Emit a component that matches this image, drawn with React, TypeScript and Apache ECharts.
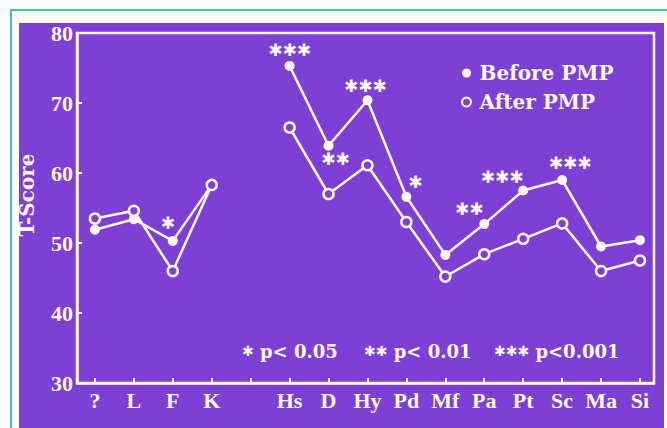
import React, { useEffect, useRef } from 'react';
import * as echarts from 'echarts';

const categories = ['?', 'L', 'F', 'K', '', 'Hs', 'D', 'Hy', 'Pd', 'Mf', 'Pa', 'Pt', 'Sc', 'Ma', 'Si'];
const before: (number | null)[] = [51.9, 53.4, 50.3, 58.3, null, 75.3, 63.9, 70.4, 56.6, 48.3, 52.7, 57.5, 59.0, 49.5, 50.4];
const after: (number | null)[] = [53.5, 54.6, 46.0, 58.3, null, 66.5, 57.0, 61.1, 53.0, 45.2, 48.4, 50.6, 52.8, 46.0, 47.5];
const significance = ['', '', '*', '', '', '***', '**', '***', '*', '', '**', '***', '***', '', ''];
const seriesNames = ['Before PMP', 'After PMP'];
const notes = [
  { stars: '*', text: ' p< 0.05' },
  { stars: '**', text: ' p< 0.01' },
  { stars: '***', text: ' p<0.001' },
];

const PURPLE = '#7d3fd4';
const WHITE = '#fbf7ff';
const TEAL = '#3fc9b3';

export default function App() {
  const ref = useRef<HTMLDivElement>(null);
  useEffect(() => {
    const chart = echarts.init(ref.current!, null, { renderer: 'svg' });
    const starOffsets: Record<number, [number, number]> = {
      2: [-5, -18], 5: [0, -16], 6: [7, 13], 7: [-2, -14], 8: [9, -15],
      10: [-15, -15], 11: [-21, -14], 12: [8, -17],
    };
    const toStars = (s: string, sep: string) => s.split('').map(() => '✱').join(sep);
    const beforeData = before.map((v, i) => ({
      value: [i, v == null ? '-' : v],
      label: significance[i]
        ? {
            show: true,
            position: 'inside',
            offset: starOffsets[i],
            formatter: toStars(significance[i], ''),
            color: WHITE,
            fontFamily: 'DejaVu Sans',
            fontWeight: 'bold',
            fontSize: 17,
            align: 'center',
            verticalAlign: 'middle',
          }
        : { show: false },
    }));
    const afterData = after.map((v, i) => [i, v == null ? '-' : v]);
    const noteX = [242, 364, 494];
    chart.setOption({
      animation: false,
      backgroundColor: 'transparent',
      grid: { left: 77, right: 13, top: 33, bottom: 45, show: true, borderColor: WHITE, borderWidth: 2.5 },
      xAxis: {
        type: 'value',
        min: -0.46,
        max: 14.36,
        axisLine: { onZero: false, lineStyle: { color: WHITE, width: 2.5 } },
        axisTick: { inside: true, length: 5, lineStyle: { color: WHITE, width: 2 }, customValues: categories.map((_, i) => i) },
        axisLabel: {
          customValues: categories.map((c, i) => (c ? i : -1)).filter((i) => i >= 0),
          formatter: (v: number) => categories[Math.round(v)],
          color: WHITE,
          fontFamily: 'Liberation Serif',
          fontWeight: 'bold',
          fontSize: 22,
          margin: 6,
        },
        splitLine: { show: false },
      },
      yAxis: {
        type: 'value',
        min: 30,
        max: 80,
        interval: 10,
        axisLine: { show: true, onZero: false, lineStyle: { color: WHITE, width: 2.5 } },
        axisTick: { show: true, inside: true, length: 5, lineStyle: { color: WHITE, width: 2 } },
        axisLabel: { color: WHITE, fontFamily: 'Liberation Serif', fontWeight: 'bold', fontSize: 22, margin: 4 },
        splitLine: { show: false },
      },
      legend: {
        left: 456,
        top: 58,
        orient: 'vertical',
        itemGap: 9,
        itemWidth: 16,
        itemHeight: 9,
        textStyle: { color: WHITE, fontFamily: 'DejaVu Serif', fontWeight: 'bold', fontSize: 20 },
        data: [
          { name: seriesNames[0], icon: 'circle', itemStyle: { color: WHITE, borderWidth: 0 } },
          { name: seriesNames[1], icon: 'circle', itemStyle: { color: PURPLE, borderColor: WHITE, borderWidth: 2 } },
        ],
      },
      graphic: [
        {
          type: 'text',
          x: 27,
          y: 195,
          rotation: Math.PI / 2,
          style: { text: 'T-Score', fill: WHITE, font: 'bold 20px "DejaVu Serif"', align: 'center', verticalAlign: 'middle' },
        },
        ...notes.map((n, k) => ({
          type: 'text',
          x: noteX[k],
          y: 351,
          style: {
            text: `{s|${toStars(n.stars, '')}}{t|${n.text}}`,
            fill: WHITE,
            verticalAlign: 'middle',
            rich: {
              s: { fontFamily: 'DejaVu Sans', fontWeight: 'bold', fontSize: 14, fill: WHITE },
              t: { fontFamily: 'DejaVu Serif', fontWeight: 'bold', fontSize: 18, fill: WHITE },
            },
          },
        })),
      ],
      series: [
        {
          name: seriesNames[0],
          type: 'line',
          data: beforeData,
          symbol: 'circle',
          symbolSize: 10,
          lineStyle: { color: WHITE, width: 2.5 },
          itemStyle: { color: WHITE },
          z: 3,
        },
        {
          name: seriesNames[1],
          type: 'line',
          data: afterData,
          symbol: 'circle',
          symbolSize: 10,
          lineStyle: { color: WHITE, width: 2.5 },
          itemStyle: { color: PURPLE, borderColor: WHITE, borderWidth: 2.5 },
          z: 4,
        },
      ],
    });
    return () => chart.dispose();
  }, []);

  return (
    <div style={{ position: 'fixed', left: 0, top: 0, width: 667, height: 428, background: '#fff', overflow: 'hidden' }}>
      <div style={{ position: 'absolute', left: 10, top: 9, width: 657, height: 2, background: TEAL }} />
      <div style={{ position: 'absolute', left: 10, top: 9, width: 2, height: 419, background: TEAL }} />
      <div style={{ position: 'absolute', left: 19, top: 23, width: 645, height: 405, background: PURPLE }} />
      <div ref={ref} style={{ position: 'absolute', left: 0, top: 0, width: 667, height: 428 }} />
    </div>
  );
}
